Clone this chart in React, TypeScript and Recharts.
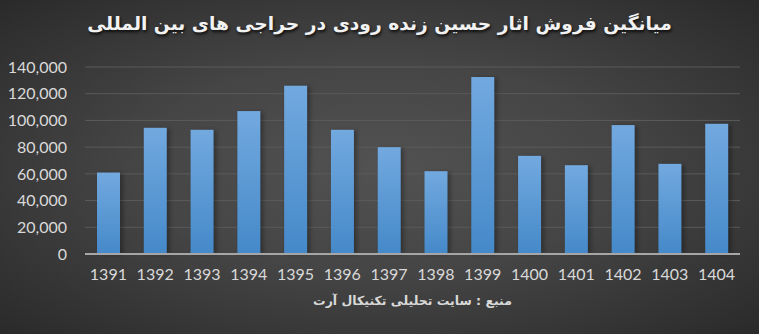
import { BarChart, Bar, XAxis, YAxis, CartesianGrid } from "recharts";

const years = ["1391", "1392", "1393", "1394", "1395", "1396", "1397", "1398", "1399", "1400", "1401", "1402", "1403", "1404"];
const avgSales = [61000, 94500, 93000, 107000, 126000, 93000, 80000, 62000, 132500, 73500, 66500, 96500, 67500, 97500];
const yTicks = [0, 20000, 40000, 60000, 80000, 100000, 120000, 140000];

const title = "میانگین فروش اثار حسین زنده رودی در حراجی های بین المللی";
const source = "منبع : سایت تحلیلی تکنیکال آرت";

const data = years.map((year, i) => ({ year, value: avgSales[i] }));

const tickStyle = { fontSize: 16, fill: "#d9d9d9", fontFamily: "Lato, sans-serif" };

// bar with its own vertical gradient and a soft shadow
function GradientBar(props: any) {
  const { x, y, width, height, index } = props;
  if (!height || height <= 0) return <g />;
  const id = `barGrad${index}`;
  return (
    <g>
      <defs>
        <linearGradient id={id} x1="0" y1="0" x2="0" y2="1">
          <stop offset="0%" stopColor="#72a9df" />
          <stop offset="100%" stopColor="#4589c9" />
        </linearGradient>
      </defs>
      <rect x={x + 2} y={y + 1} width={width + 1} height={height - 1} fill="#000" opacity={0.3} style={{ filter: "blur(2px)" }} />
      <rect x={x} y={y} width={width} height={height} fill={`url(#${id})`} />
    </g>
  );
}

export default function App() {
  return (
    <div
      style={{
        position: "absolute",
        top: 0,
        left: 0,
        width: 759,
        height: 334,
        background: "radial-gradient(ellipse at 50% 50%, #525252 0%, #454545 45%, #2a2a2a 100%)",
        overflow: "hidden",
      }}
    >
      <div
        style={{
          position: "absolute",
          top: 13,
          left: 0,
          width: 759,
          textAlign: "center",
          direction: "rtl",
          fontFamily: "'DejaVu Sans', sans-serif",
          fontWeight: "bold",
          fontSize: 18.7,
          color: "#f2f2f2",
          textShadow: "1px 2px 3px rgba(0,0,0,0.8)",
        }}
      >
        {title}
      </div>
      <div
        style={{
          position: "absolute",
          top: 293,
          left: 85,
          width: 655,
          textAlign: "center",
          direction: "rtl",
          fontFamily: "'DejaVu Sans', sans-serif",
          fontWeight: "bold",
          fontSize: 12.5,
          color: "#d9d9d9",
        }}
      >
        {source}
      </div>
      <BarChart
        width={759}
        height={334}
        data={data}
        margin={{ top: 67, right: 19, left: 0, bottom: 50 }}
        barSize={23}
      >
        <CartesianGrid vertical={false} stroke="#5b5b5b" strokeWidth={1} />
        <XAxis
          dataKey="year"
          tickLine={false}
          axisLine={{ stroke: "#a6a6a6", strokeWidth: 2 }}
          tick={tickStyle}
          tickMargin={9}
          height={30}
          interval={0}
        />
        <YAxis
          width={85}
          ticks={yTicks}
          domain={[0, 140000]}
          axisLine={false}
          tickLine={false}
          tick={tickStyle}
          tickMargin={12}
          tickFormatter={(v) => Number(v).toLocaleString("en-US")}
        />
        <Bar dataKey="value" fill="#5b9bd5" shape={GradientBar} isAnimationActive={false} />
      </BarChart>
    </div>
  );
}
